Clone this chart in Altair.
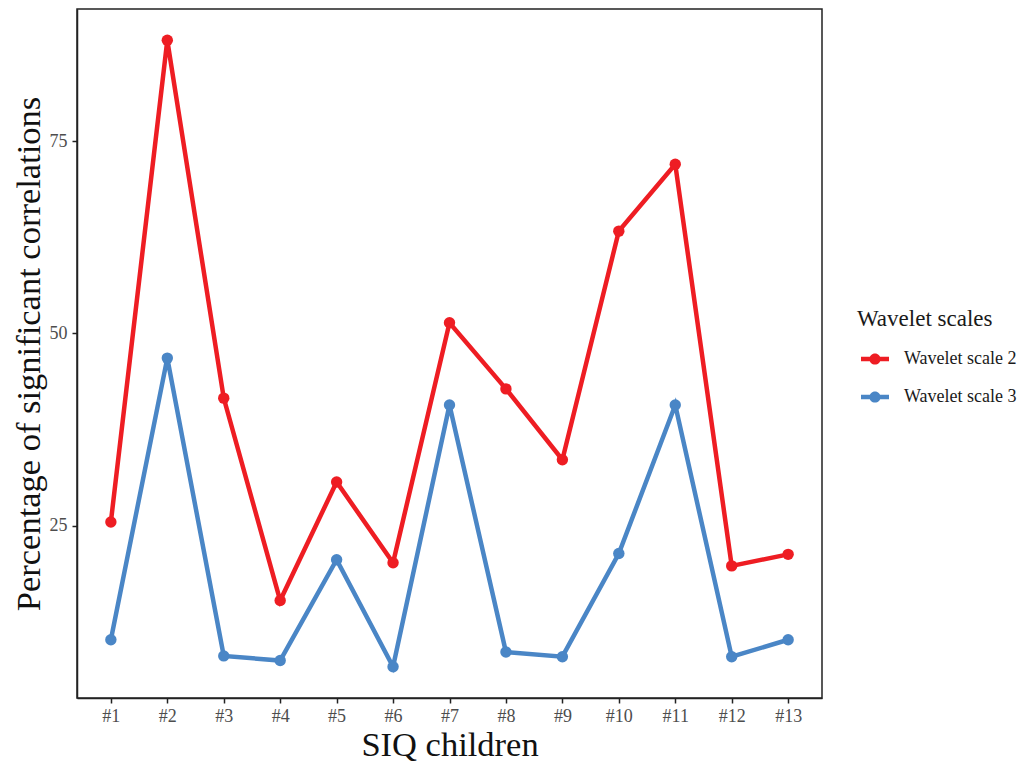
import altair as alt
import pandas as pd

children = ["#1", "#2", "#3", "#4", "#5", "#6", "#7", "#8", "#9", "#10", "#11", "#12", "#13"]
scale2 = [25.5, 88.1, 41.6, 15.3, 30.7, 20.2, 51.4, 42.8, 33.6, 63.3, 72.0, 19.8, 21.3]
scale3 = [10.2, 46.8, 8.1, 7.5, 20.6, 6.7, 40.7, 8.6, 8.0, 21.4, 40.7, 8.0, 10.2]
series = ["Wavelet scale 2", "Wavelet scale 3"]
colors = ["#EE1D23", "#4A86C6"]

rows = []
for c, v in zip(children, scale2):
    rows.append({"child": c, "value": v, "series": series[0]})
for c, v in zip(children, scale3):
    rows.append({"child": c, "value": v, "series": series[1]})
df = pd.DataFrame(rows)

FONT = "Liberation Serif"

x = alt.X("child:N", sort=children,
          scale=alt.Scale(type="point", padding=0.6),
          axis=alt.Axis(title="SIQ children", labelAngle=0, titleFontSize=34.5,
                        titleFontWeight="normal", titleColor="#111111", titlePadding=3,
                        labelFontSize=18, labelColor="#4D4D4D", labelPadding=4,
                        tickSize=5, tickColor="#222222", tickWidth=1.5,
                        domainColor="#222222", domainWidth=1.5, grid=False))
y = alt.Y("value:Q",
          scale=alt.Scale(domain=[2.63, 92.17], nice=False, zero=False),
          axis=alt.Axis(title="Percentage of significant correlations", values=[25, 50, 75],
                        titleFontSize=34.5, titleFontWeight="normal", titleColor="#111111",
                        titlePadding=3, labelFontSize=18, labelColor="#4D4D4D",
                        labelPadding=5, tickSize=5, tickColor="#222222", tickWidth=1.5,
                        domainColor="#222222", domainWidth=1.5, grid=False))
color = alt.Color("series:N", scale=alt.Scale(domain=series, range=colors),
                  legend=alt.Legend(title="Wavelet scales", orient="none",
                                    legendX=780, legendY=299,
                                    titleFontSize=23, titleFontWeight="normal",
                                    titleColor="#1A1A1A", titlePadding=14,
                                    labelFontSize=18, labelColor="#1A1A1A",
                                    labelOffset=15, rowPadding=15, symbolOffset=4,
                                    symbolType="M-1,-0.16L1,-0.16L1,0.16L-1,0.16Z M0.4,0A0.4,0.4 0 1,1 -0.4,0A0.4,0.4 0 1,1 0.4,0Z",
                                    symbolSize=784, symbolStrokeWidth=0))

line = alt.Chart(df).mark_line(strokeWidth=4.5).encode(x=x, y=y, color=color)
pts = alt.Chart(df).mark_circle(size=130, opacity=1).encode(x=x, y=y, color=color)

chart = alt.layer(line, pts).properties(
    width=745, height=689,
    autosize=alt.AutoSizeParams(type="none"),
    padding={"left": 69, "top": 1, "right": 196, "bottom": 65},
).configure(font=FONT).configure_view(stroke="#222222", strokeWidth=1.5)

chart.save("out.html", embed_options={"renderer": "svg", "actions": False})
